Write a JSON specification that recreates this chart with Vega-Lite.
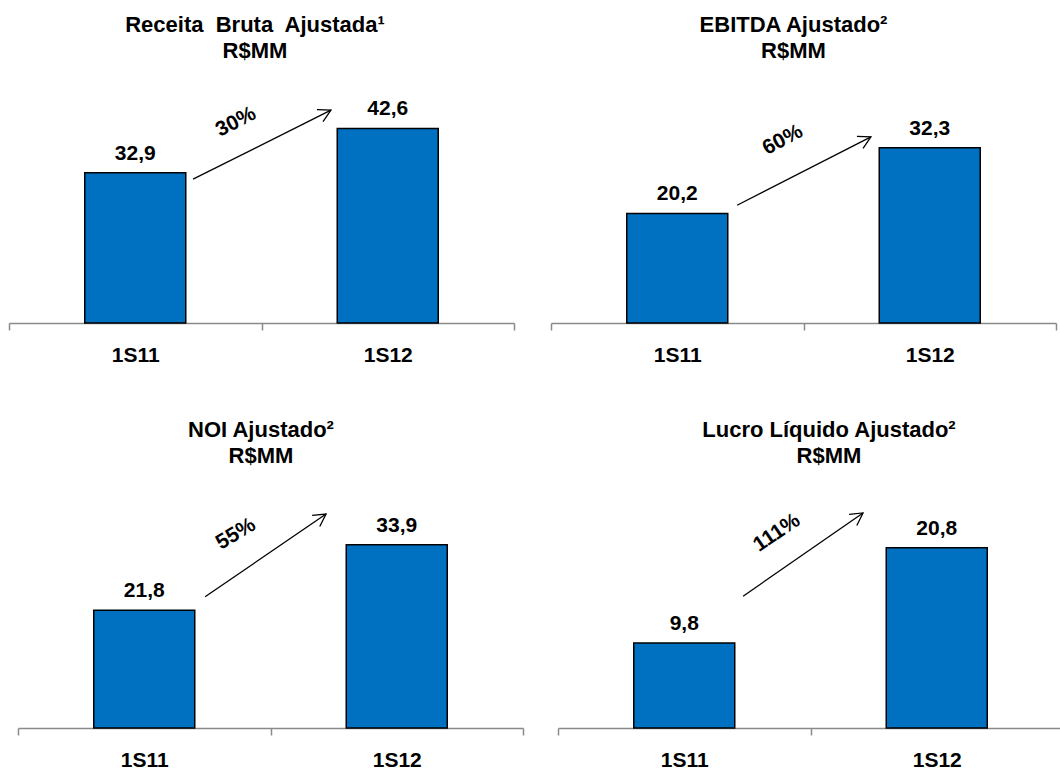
{
  "$schema": "https://vega.github.io/schema/vega-lite/v6.json",
  "background": "white",
  "padding": {"left": 8, "top": 14, "right": 0, "bottom": 0},
  "config": {
    "locale": {"number": {"decimal": ",", "thousands": ".", "grouping": [3], "currency": ["R$", ""]}},
    "view": {"stroke": null},
    "font": "Liberation Sans",
    "title": {"font": "Liberation Sans", "fontSize": 22, "fontWeight": "bold", "color": "black", "lineHeight": 26, "anchor": "middle", "offset": 12},
    "axisX": {"title": null, "domainColor": "#8a8a8a", "domainWidth": 1.5, "tickColor": "#8a8a8a", "tickWidth": 1.5, "tickSize": 7, "tickBand": "extent", "labelFont": "Liberation Sans", "labelFontSize": 21, "labelFontWeight": "bold", "labelColor": "black", "labelPadding": 14, "labelAngle": 0, "grid": false}
  },
  "datasets": {
    "bars": [
      {"panel": "p1", "period": "1S11", "value": 32.9},
      {"panel": "p1", "period": "1S12", "value": 42.6},
      {"panel": "p2", "period": "1S11", "value": 20.2},
      {"panel": "p2", "period": "1S12", "value": 32.3},
      {"panel": "p3", "period": "1S11", "value": 21.8},
      {"panel": "p3", "period": "1S12", "value": 33.9},
      {"panel": "p4", "period": "1S11", "value": 9.8},
      {"panel": "p4", "period": "1S12", "value": 20.8}
    ],
    "notes": [
      {"panel": "p1", "from": "1S11", "to": "1S12", "y0": 31.5, "y1": 46.6, "ylab": 44, "pct": "30%"},
      {"panel": "p2", "from": "1S11", "to": "1S12", "y0": 21.7, "y1": 34.3, "ylab": 33.7, "pct": "60%"},
      {"panel": "p3", "from": "1S11", "to": "1S12", "y0": 24.3, "y1": 39.6, "ylab": 35.9, "pct": "55%"},
      {"panel": "p4", "from": "1S11", "to": "1S12", "y0": 15.2, "y1": 24.8, "ylab": 22.5, "pct": "111%"}
    ]
  },
  "columns": 2,
  "spacing": {"row": 54, "column": 26},
  "concat": [
    {
      "title": {"text": ["Receita\u00a0 Bruta\u00a0 Ajustada¹", "R$MM"], "dx": -11},
      "width": 514, "height": 248,
      "layer": [
        {"data": {"name": "bars"}, "transform": [{"filter": "datum.panel == 'p1'"}],
         "mark": {"type": "bar", "color": "#0070C0", "stroke": "black", "strokeWidth": 1.5, "width": {"band": 0.4}},
         "encoding": {"x": {"field": "period", "type": "nominal", "title": null, "scale": {"paddingInner": 0, "paddingOuter": 0, "range": [0, 505]}},
                      "y": {"field": "value", "type": "quantitative", "scale": {"domain": [0, 54.3], "nice": false}, "axis": null}}},
        {"data": {"name": "bars"}, "transform": [{"filter": "datum.panel == 'p1'"}],
         "mark": {"type": "text", "dy": -13, "baseline": "alphabetic", "fontSize": 21, "fontWeight": "bold", "color": "black"},
         "encoding": {"x": {"field": "period", "type": "nominal", "title": null}, "y": {"field": "value", "type": "quantitative"}, "text": {"field": "value", "type": "quantitative", "format": ".1f"}}},
        {"data": {"name": "notes"}, "transform": [{"filter": "datum.panel == 'p1'"}],
         "mark": {"type": "rule", "color": "black", "strokeWidth": 1.3},
         "encoding": {"x": {"field": "from", "type": "nominal", "title": null, "bandPosition": 0.729}, "x2": {"field": "to", "bandPosition": 0.275},
                      "y": {"field": "y0", "type": "quantitative"}, "y2": {"field": "y1"}}},
        {"data": {"name": "notes"}, "transform": [{"filter": "datum.panel == 'p1'"}],
         "mark": {"type": "point", "shape": "M-0.55,1L0,0L0.55,1", "filled": false, "stroke": "black", "strokeWidth": 1.3, "size": 600, "angle": 63.4, "opacity": 1},
         "encoding": {"x": {"field": "to", "type": "nominal", "title": null, "bandPosition": 0.275}, "y": {"field": "y1", "type": "quantitative"}}},
        {"data": {"name": "notes"}, "transform": [{"filter": "datum.panel == 'p1'"}],
         "mark": {"type": "text", "angle": -27, "fontSize": 21, "fontWeight": "bold", "color": "black"},
         "encoding": {"x": {"field": "from", "type": "nominal", "title": null, "bandPosition": 0.899}, "y": {"field": "ylab", "type": "quantitative"}, "text": {"field": "pct"}}}
      ]
    },
    {
      "title": {"text": ["EBITDA Ajustado²", "R$MM"], "dx": -10},
      "width": 505, "height": 248,
      "layer": [
        {"data": {"name": "bars"}, "transform": [{"filter": "datum.panel == 'p2'"}],
         "mark": {"type": "bar", "color": "#0070C0", "stroke": "black", "strokeWidth": 1.5, "width": {"band": 0.4}},
         "encoding": {"x": {"field": "period", "type": "nominal", "title": null, "scale": {"paddingInner": 0, "paddingOuter": 0}},
                      "y": {"field": "value", "type": "quantitative", "scale": {"domain": [0, 45.7], "nice": false}, "axis": null}}},
        {"data": {"name": "bars"}, "transform": [{"filter": "datum.panel == 'p2'"}],
         "mark": {"type": "text", "dy": -13, "baseline": "alphabetic", "fontSize": 21, "fontWeight": "bold", "color": "black"},
         "encoding": {"x": {"field": "period", "type": "nominal", "title": null}, "y": {"field": "value", "type": "quantitative"}, "text": {"field": "value", "type": "quantitative", "format": ".1f"}}},
        {"data": {"name": "notes"}, "transform": [{"filter": "datum.panel == 'p2'"}],
         "mark": {"type": "rule", "color": "black", "strokeWidth": 1.3},
         "encoding": {"x": {"field": "from", "type": "nominal", "title": null, "bandPosition": 0.737}, "x2": {"field": "to", "bandPosition": 0.267},
                      "y": {"field": "y0", "type": "quantitative"}, "y2": {"field": "y1"}}},
        {"data": {"name": "notes"}, "transform": [{"filter": "datum.panel == 'p2'"}],
         "mark": {"type": "point", "shape": "M-0.55,1L0,0L0.55,1", "filled": false, "stroke": "black", "strokeWidth": 1.3, "size": 600, "angle": 63, "opacity": 1},
         "encoding": {"x": {"field": "to", "type": "nominal", "title": null, "bandPosition": 0.267}, "y": {"field": "y1", "type": "quantitative"}}},
        {"data": {"name": "notes"}, "transform": [{"filter": "datum.panel == 'p2'"}],
         "mark": {"type": "text", "angle": -28, "fontSize": 21, "fontWeight": "bold", "color": "black"},
         "encoding": {"x": {"field": "from", "type": "nominal", "title": null, "bandPosition": 0.918}, "y": {"field": "ylab", "type": "quantitative"}, "text": {"field": "pct"}}}
      ]
    },
    {
      "title": {"text": ["NOI Ajustado²", "R$MM"], "dx": -5},
      "width": 514, "height": 248,
      "layer": [
        {"data": {"name": "bars"}, "transform": [{"filter": "datum.panel == 'p3'"}],
         "mark": {"type": "bar", "color": "#0070C0", "stroke": "black", "strokeWidth": 1.5, "width": {"band": 0.4}},
         "encoding": {"x": {"field": "period", "type": "nominal", "title": null, "scale": {"paddingInner": 0, "paddingOuter": 0, "range": [9, 514]}},
                      "y": {"field": "value", "type": "quantitative", "scale": {"domain": [0, 45.9], "nice": false}, "axis": null}}},
        {"data": {"name": "bars"}, "transform": [{"filter": "datum.panel == 'p3'"}],
         "mark": {"type": "text", "dy": -13, "baseline": "alphabetic", "fontSize": 21, "fontWeight": "bold", "color": "black"},
         "encoding": {"x": {"field": "period", "type": "nominal", "title": null}, "y": {"field": "value", "type": "quantitative"}, "text": {"field": "value", "type": "quantitative", "format": ".1f"}}},
        {"data": {"name": "notes"}, "transform": [{"filter": "datum.panel == 'p3'"}],
         "mark": {"type": "rule", "color": "black", "strokeWidth": 1.3},
         "encoding": {"x": {"field": "from", "type": "nominal", "title": null, "bandPosition": 0.741}, "x2": {"field": "to", "bandPosition": 0.22},
                      "y": {"field": "y0", "type": "quantitative"}, "y2": {"field": "y1"}}},
        {"data": {"name": "notes"}, "transform": [{"filter": "datum.panel == 'p3'"}],
         "mark": {"type": "point", "shape": "M-0.55,1L0,0L0.55,1", "filled": false, "stroke": "black", "strokeWidth": 1.3, "size": 600, "angle": 55.6, "opacity": 1},
         "encoding": {"x": {"field": "to", "type": "nominal", "title": null, "bandPosition": 0.22}, "y": {"field": "y1", "type": "quantitative"}}},
        {"data": {"name": "notes"}, "transform": [{"filter": "datum.panel == 'p3'"}],
         "mark": {"type": "text", "angle": -31, "fontSize": 21, "fontWeight": "bold", "color": "black"},
         "encoding": {"x": {"field": "from", "type": "nominal", "title": null, "bandPosition": 0.863}, "y": {"field": "ylab", "type": "quantitative"}, "text": {"field": "pct"}}}
      ]
    },
    {
      "title": {"text": ["Lucro Líquido Ajustado²", "R$MM"], "dx": 22},
      "width": 512, "height": 248,
      "layer": [
        {"data": {"name": "bars"}, "transform": [{"filter": "datum.panel == 'p4'"}],
         "mark": {"type": "bar", "color": "#0070C0", "stroke": "black", "strokeWidth": 1.5, "width": {"band": 0.4}},
         "encoding": {"x": {"field": "period", "type": "nominal", "title": null, "scale": {"paddingInner": 0, "paddingOuter": 0, "range": [7, 512]}},
                      "y": {"field": "value", "type": "quantitative", "scale": {"domain": [0, 28.6], "nice": false}, "axis": null}}},
        {"data": {"name": "bars"}, "transform": [{"filter": "datum.panel == 'p4'"}],
         "mark": {"type": "text", "dy": -13, "baseline": "alphabetic", "fontSize": 21, "fontWeight": "bold", "color": "black"},
         "encoding": {"x": {"field": "period", "type": "nominal", "title": null}, "y": {"field": "value", "type": "quantitative"}, "text": {"field": "value", "type": "quantitative", "format": ".1f"}}},
        {"data": {"name": "notes"}, "transform": [{"filter": "datum.panel == 'p4'"}],
         "mark": {"type": "rule", "color": "black", "strokeWidth": 1.3},
         "encoding": {"x": {"field": "from", "type": "nominal", "title": null, "bandPosition": 0.733}, "x2": {"field": "to", "bandPosition": 0.208},
                      "y": {"field": "y0", "type": "quantitative"}, "y2": {"field": "y1"}}},
        {"data": {"name": "notes"}, "transform": [{"filter": "datum.panel == 'p4'"}],
         "mark": {"type": "point", "shape": "M-0.55,1L0,0L0.55,1", "filled": false, "stroke": "black", "strokeWidth": 1.3, "size": 600, "angle": 55.3, "opacity": 1},
         "encoding": {"x": {"field": "to", "type": "nominal", "title": null, "bandPosition": 0.208}, "y": {"field": "y1", "type": "quantitative"}}},
        {"data": {"name": "notes"}, "transform": [{"filter": "datum.panel == 'p4'"}],
         "mark": {"type": "text", "angle": -34, "fontSize": 21, "fontWeight": "bold", "color": "black"},
         "encoding": {"x": {"field": "from", "type": "nominal", "title": null, "bandPosition": 0.867}, "y": {"field": "ylab", "type": "quantitative"}, "text": {"field": "pct"}}}
      ]
    }
  ]
}
